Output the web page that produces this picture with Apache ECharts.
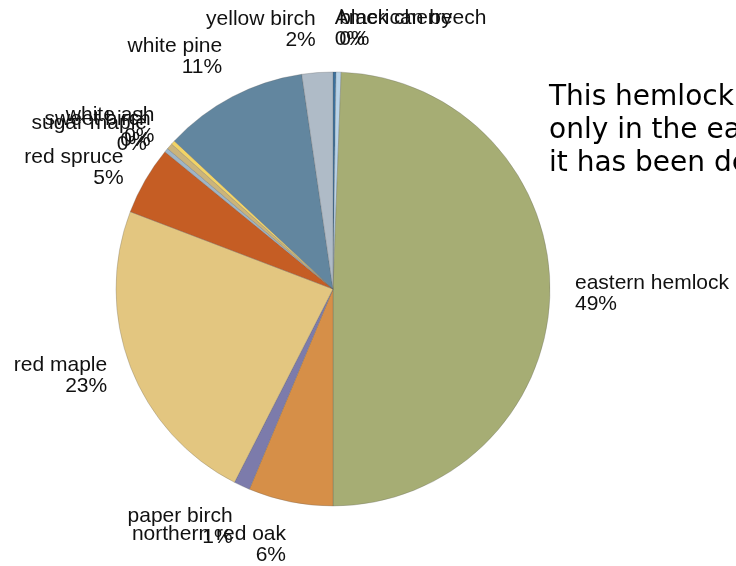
<!DOCTYPE html>
<html>
<head>
<meta charset="utf-8">
<script src="https://cdn.jsdelivr.net/npm/echarts@6/dist/echarts.min.js"></script>
<style>
  html, body { margin: 0; padding: 0; background: #fff; }
  #chart { width: 736px; height: 566px; }
</style>
</head>
<body>
<div id="chart"></div>
<script>
// species share of the stand (percent)
const species = [
  'American beech', 'black cherry', 'eastern hemlock', 'northern red oak',
  'paper birch', 'red maple', 'red spruce', 'sugar maple',
  'sweet birch', 'white ash', 'white pine', 'yellow birch'
];
const shares = [0.22, 0.38, 49.4, 6.3, 1.2, 23.3, 5.1, 0.3, 0.45, 0.3, 10.75, 2.3];
const colors = [
  '#3b72a0', '#b9d3e8', '#a6ad74', '#d68f48', '#7c7bab', '#e3c680',
  '#c55d24', '#9fb5c6', '#cbb47a', '#f2d466', '#62869f', '#afbbc7'
];
const noteLines = ['This hemlock forest', 'only in the eastern', 'it has been declining'];

const cx = 333, cy = 289, r = 217, gap = 25;

// mid angle of each slice, clockwise from 12 o'clock
const total = shares.reduce((a, b) => a + b, 0);
const midAngles = [];
let acc = 0;
shares.forEach(v => {
  midAngles.push((acc + v / 2) / total * Math.PI * 2);
  acc += v;
});

const chart = echarts.init(document.getElementById('chart'));

const option = {
  backgroundColor: '#fff',
  animation: false,
  graphic: [{
    type: 'text',
    left: 549,
    top: 81,
    style: {
      text: noteLines.join('\n'),
      font: '28px "DejaVu Sans"',
      lineHeight: 33,
      fill: '#000'
    }
  }],
  series: [{
    type: 'pie',
    center: [cx, cy],
    radius: r,
    startAngle: 90,
    clockwise: true,
    avoidLabelOverlap: false,
    itemStyle: {
      borderColor: 'rgba(90,90,90,0.45)',
      borderWidth: 0.6
    },
    label: {
      show: true,
      position: 'outside',
      fontFamily: '"Liberation Sans", Arial, sans-serif',
      fontSize: 21,
      lineHeight: 21,
      color: '#111',
      formatter: p => p.name + '\n' + Math.round(p.percent) + '%'
    },
    labelLine: { show: false, length: gap, length2: 0 },
    labelLayout: p => {
      const a = midAngles[p.dataIndex];
      const dx = Math.sin(a), dy = -Math.cos(a);
      let va = 'middle';
      let d = r + gap;
      if (Math.abs(dy) > Math.abs(dx)) {
        va = dy > 0 ? 'top' : 'bottom';
        d -= 3;
      }
      return {
        x: cx + d * dx,
        y: cy + d * dy,
        align: dx >= 0 ? 'left' : 'right',
        verticalAlign: va
      };
    },
    emphasis: { disabled: true },
    data: species.map((name, i) => ({
      name: name,
      value: shares[i],
      itemStyle: { color: colors[i] }
    }))
  }]
};

chart.setOption(option);
</script>
</body>
</html>
